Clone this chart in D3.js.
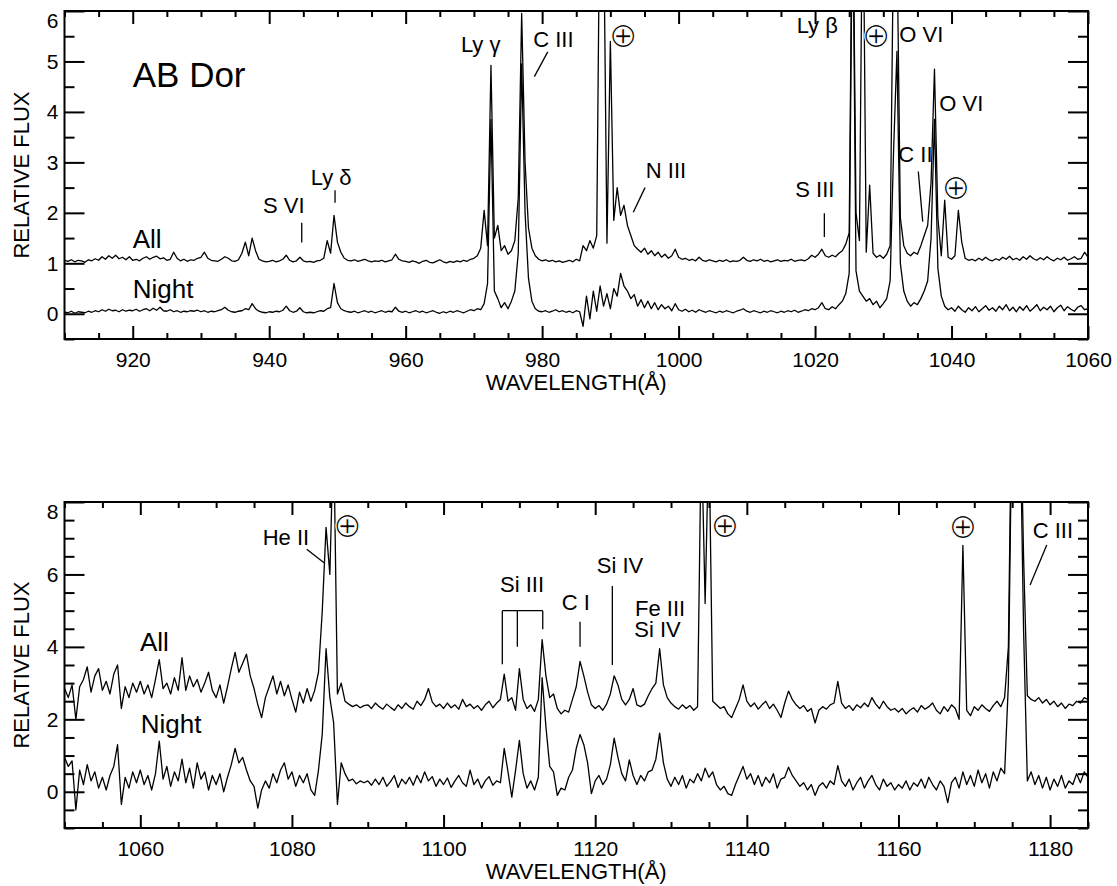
<!DOCTYPE html>
<html><head><meta charset="utf-8">
<script src="https://cdn.jsdelivr.net/npm/d3@7"></script>
<style>body{margin:0;background:#fff} svg{display:block}</style>
</head><body><script>
// ---------------- DATA ----------------
// Panel 1 : 910–1060 Å, sampled every 0.5 Å
const wave1Start = 910, wave1Step = 0.5;
const fluxAll1 = [
1.06,1.04,1.07,1.03,1.06,1.05,1.02,1.07,1.05,1.09,1.06,1.13,1.08,1.15,1.10,1.16,1.09,1.12,1.07,1.13,
1.06,1.08,1.05,1.10,1.13,1.08,1.12,1.14,1.09,1.11,1.06,1.08,1.22,1.10,1.05,1.08,1.04,1.07,1.06,1.10,
1.12,1.22,1.10,1.06,1.05,1.04,1.08,1.13,1.10,1.05,1.04,1.07,1.20,1.42,1.15,1.50,1.25,1.08,1.05,1.03,
1.04,1.06,1.03,1.05,1.08,1.16,1.06,1.03,1.05,1.12,1.05,1.03,1.04,1.02,1.05,1.06,1.10,1.45,1.20,1.95,
1.42,1.22,1.10,1.06,1.05,1.07,1.04,1.06,1.08,1.05,1.03,1.05,1.04,1.06,1.03,1.05,1.07,1.18,1.08,1.05,
1.04,1.02,1.05,1.03,1.00,1.04,1.06,1.02,1.01,1.04,1.07,1.03,1.01,1.04,1.02,1.05,1.03,1.06,1.04,1.08,
1.10,1.15,1.30,2.05,1.35,4.92,1.50,1.75,1.25,1.35,1.18,1.25,1.45,2.30,5.95,3.00,1.70,1.30,1.15,1.08,
1.05,1.07,1.04,1.06,1.03,1.05,1.02,1.04,1.06,1.03,1.08,1.05,1.35,1.25,1.45,1.30,1.55,9.00,8.00,1.40,
5.40,1.85,2.50,1.95,2.15,1.75,1.55,1.35,1.28,1.22,1.30,1.18,1.25,1.15,1.22,1.12,1.18,1.10,1.15,1.28,
1.12,1.08,1.10,1.06,1.08,1.05,1.12,1.06,1.04,1.07,1.05,1.03,1.06,1.04,1.07,1.03,1.05,1.04,1.06,1.12,
1.06,1.04,1.07,1.05,1.08,1.04,1.06,1.03,1.05,1.07,1.04,1.06,1.05,1.08,1.04,1.06,1.07,1.05,1.09,1.16,
1.12,1.18,1.28,1.15,1.12,1.16,1.13,1.20,1.25,1.38,1.60,9.00,2.00,1.45,9.00,1.22,2.55,1.20,1.12,1.16,
1.10,1.18,1.35,7.50,7.50,1.90,1.35,1.20,1.15,1.22,1.18,1.35,1.55,1.75,2.60,4.85,1.90,1.15,2.25,1.12,
1.08,1.15,2.05,1.42,1.10,1.06,1.08,1.05,1.10,1.06,1.12,1.07,1.05,1.09,1.06,1.12,1.08,1.14,1.07,1.10,
1.06,1.13,1.08,1.15,1.09,1.06,1.11,1.07,1.13,1.08,1.05,1.10,1.07,1.12,1.06,1.09,1.13,1.08,1.10,1.22,
1.12];
const fluxNight1 = [
0.03,0.02,0.05,0.01,0.04,0.03,0.02,0.05,0.03,0.06,0.04,0.08,0.05,0.09,0.06,0.07,0.04,0.08,0.05,0.07,
0.06,0.09,0.05,0.08,0.10,0.06,0.11,0.07,0.13,0.06,0.05,0.08,0.04,0.06,0.03,0.05,0.04,0.06,0.05,0.07,
0.04,0.06,0.03,0.05,0.04,0.06,0.08,0.13,0.07,0.04,0.03,0.05,0.06,0.10,0.08,0.20,0.10,0.05,0.03,0.02,
0.04,0.03,0.05,0.04,0.07,0.15,0.06,0.03,0.05,0.12,0.04,0.02,0.03,0.02,0.04,0.06,0.05,0.10,0.12,0.60,
0.22,0.10,0.06,0.04,0.03,0.05,0.02,0.04,0.06,0.03,0.05,0.02,0.04,0.06,0.03,0.05,0.04,0.13,0.05,0.03,
0.05,0.02,0.04,0.06,0.03,0.05,0.02,0.04,0.06,0.03,0.01,0.04,0.02,0.05,0.03,0.06,0.04,0.02,0.05,0.08,
0.06,0.10,0.08,0.20,0.60,3.85,0.45,0.30,0.12,0.22,0.10,0.25,0.45,1.20,4.95,2.00,0.70,0.25,0.10,0.05,
0.04,0.06,0.03,0.05,0.08,0.04,0.06,0.03,0.05,0.02,0.06,0.04,-0.25,0.35,-0.10,0.45,0.05,0.55,0.15,0.40,
0.10,0.50,0.35,0.80,0.55,0.45,0.30,0.38,0.15,0.28,0.12,0.25,0.10,0.22,0.08,0.18,0.10,0.15,0.06,0.20,
0.08,0.05,0.09,0.04,0.07,0.03,0.08,0.05,0.03,0.06,0.04,0.02,0.05,0.03,0.06,0.04,0.02,0.05,0.07,0.10,
0.05,0.03,0.06,0.04,0.02,0.05,0.03,0.06,0.04,0.02,0.05,0.03,0.06,0.04,0.07,0.03,0.05,0.08,0.06,0.10,
0.08,0.12,0.22,0.10,0.08,0.14,0.10,0.18,0.25,0.40,0.80,8.50,0.85,0.45,0.35,0.25,0.30,0.18,0.25,0.12,
0.20,0.30,0.65,3.20,5.20,1.00,0.45,0.25,0.15,0.22,0.18,0.30,0.45,0.65,1.50,3.85,0.90,0.35,0.15,0.08,
0.12,0.05,0.15,0.08,0.03,0.12,0.06,0.14,0.04,0.10,0.16,0.07,0.12,0.05,0.15,0.08,0.18,0.06,0.13,0.04,
0.14,0.07,0.16,0.05,0.11,0.18,0.06,0.13,0.08,0.15,0.04,0.12,0.17,0.06,0.14,0.09,0.05,0.13,0.16,0.08,
0.10];
// Panel 2 : 1050–1185 Å, sampled every 0.5 Å
const wave2Start = 1050, wave2Step = 0.5;
const fluxAll2 = [
2.85,2.60,2.95,2.00,2.90,3.10,3.45,2.75,3.20,3.40,2.80,3.05,2.70,3.25,3.50,2.30,2.90,2.60,3.00,2.75,
3.05,2.70,2.95,2.60,3.10,3.65,2.85,3.00,2.70,3.15,2.80,3.70,2.80,3.20,2.90,3.10,2.75,3.00,3.30,2.80,
2.60,2.95,2.45,2.90,3.40,3.85,3.30,3.55,3.80,3.20,2.85,2.40,2.05,2.60,2.90,3.20,2.70,3.05,2.65,2.95,
2.55,2.20,2.75,2.45,2.85,2.50,2.80,3.30,5.00,7.30,6.00,10.0,2.70,3.00,2.50,2.42,2.35,2.40,2.32,2.38,
2.40,2.30,2.45,2.35,2.28,2.42,2.33,2.25,2.40,2.30,2.45,2.35,2.28,2.50,2.38,2.55,2.85,2.48,2.35,2.42,
2.30,2.45,2.32,2.40,2.28,2.55,2.35,2.42,2.30,2.38,2.25,2.40,2.50,2.32,2.45,2.55,3.25,2.50,2.60,2.25,
3.40,2.55,2.30,2.40,2.22,2.55,4.20,3.20,2.60,2.70,2.30,2.15,2.25,2.20,2.55,2.90,3.60,3.20,2.75,2.40,
2.30,2.38,2.25,2.42,2.70,3.20,2.95,2.55,2.40,2.55,2.85,2.40,2.35,2.42,2.65,2.85,3.00,3.95,2.95,2.60,
2.45,2.35,2.28,2.40,2.30,2.38,2.25,2.35,10.0,5.20,10.0,2.50,2.40,2.30,2.35,2.15,2.05,2.30,2.55,2.95,
2.50,2.35,2.45,2.28,2.40,2.50,2.30,2.42,2.25,2.05,2.45,2.78,2.55,2.40,2.30,2.38,2.22,2.30,1.90,2.25,
2.35,2.28,2.40,2.45,3.05,2.45,2.30,2.38,2.25,2.40,2.32,2.45,2.35,2.60,2.42,2.30,2.50,2.35,2.25,2.30,
2.20,2.30,2.15,2.25,2.32,2.20,2.38,2.28,2.35,2.45,2.25,2.15,2.35,2.22,2.40,2.30,2.00,6.80,2.25,2.10,
2.35,2.25,2.40,2.30,2.22,2.38,2.50,2.35,2.60,4.00,12.0,14.0,12.0,6.50,2.65,2.55,2.50,2.60,2.45,2.55,
2.40,2.50,2.35,2.45,2.30,2.42,2.38,2.50,2.45,2.60,
2.55];
const fluxNight2 = [
0.95,0.70,0.85,-0.50,0.60,0.20,0.75,0.30,0.55,0.10,0.40,0.05,0.45,0.70,1.30,-0.35,0.40,0.10,0.55,0.25,
0.60,0.20,0.45,0.05,0.50,1.40,0.35,0.70,0.15,0.55,0.30,0.90,0.25,0.65,0.10,0.80,0.35,0.55,0.05,0.45,
0.20,0.50,0.00,0.40,0.75,1.20,0.80,0.95,0.60,0.30,0.15,-0.45,0.05,0.30,0.10,0.50,0.25,0.60,0.80,0.35,
0.55,0.15,0.45,0.25,0.50,0.05,-0.10,0.60,1.60,3.95,2.60,1.90,-0.35,0.80,0.50,0.30,0.35,0.22,0.30,0.25,
0.30,0.18,0.35,0.20,0.40,0.15,0.28,0.45,0.12,0.35,0.22,0.40,0.18,0.45,0.25,0.55,0.30,0.42,0.15,0.35,
0.20,0.38,0.12,0.30,0.45,0.25,0.15,0.60,0.20,0.35,0.10,0.30,0.42,0.18,0.30,0.25,1.20,0.55,-0.15,0.60,
1.42,0.50,0.10,0.30,0.05,0.40,3.15,1.80,0.70,0.55,-0.10,0.10,0.05,0.40,0.60,1.20,1.58,1.30,0.80,-0.05,
0.30,0.45,0.20,0.35,0.75,1.48,0.95,0.50,0.30,0.88,0.45,0.20,0.45,0.30,0.55,0.60,0.90,1.62,0.80,0.35,
0.15,0.40,0.20,0.45,0.10,0.35,0.25,0.50,0.30,0.65,0.40,0.55,0.20,0.05,0.15,-0.05,-0.10,0.20,0.45,0.70,
0.35,0.50,0.20,0.45,0.15,0.40,0.25,0.50,0.10,0.35,0.40,0.68,0.45,0.30,0.15,0.25,0.05,0.20,-0.10,0.15,
0.25,0.10,0.30,0.20,0.72,0.30,0.15,0.35,0.05,0.25,0.40,0.10,0.30,0.45,0.20,0.05,0.35,0.15,0.25,0.05,
0.20,0.10,0.30,0.05,0.25,0.15,0.35,0.10,0.40,0.20,0.05,0.30,0.15,-0.30,0.25,0.40,0.10,0.55,0.20,0.45,
0.15,0.60,0.25,0.50,0.10,0.55,0.30,0.65,0.50,3.00,11.0,13.0,11.0,4.50,0.30,0.55,0.20,0.45,0.10,0.40,
0.05,0.35,0.15,0.45,0.10,0.30,0.20,0.50,0.25,0.55,
0.40];

// Axis ticks
const xTicks1 = [920, 940, 960, 980, 1000, 1020, 1040, 1060];
const yTicks1 = [0, 1, 2, 3, 4, 5, 6];
const xTicks2 = [1060, 1080, 1100, 1120, 1140, 1160, 1180];
const yTicks2 = [0, 2, 4, 6, 8];

// Annotations (wavelength, flux)
const labels1 = [
  {t: "AB Dor", w: 920.0, v: 4.49, big: 2},
  {t: "All", w: 920.0, v: 1.30, big: 1},
  {t: "Night", w: 920.0, v: 0.31, big: 1},
  {t: "S VI", w: 939.1, v: 1.99},
  {t: "Ly δ", w: 946.1, v: 2.55},
  {t: "Ly γ", w: 968.1, v: 5.19},
  {t: "C III", w: 978.7, v: 5.29},
  {t: "N III", w: 995.2, v: 2.685},
  {t: "S III", w: 1017.1, v: 2.31},
  {t: "Ly β", w: 1017.3, v: 5.56},
  {t: "O VI", w: 1032.35, v: 5.39},
  {t: "O VI", w: 1038.2, v: 4.02},
  {t: "C II", w: 1032.2, v: 3.00}
];
const leaders1 = [
  [944.77, 1.805, 944.77, 1.41],
  [949.65, 2.45, 949.65, 2.20],
  [980.82, 5.19, 978.86, 4.70],
  [995.08, 2.50, 993.36, 2.01],
  [1021.36, 1.99, 1021.36, 1.52],
  [1035.13, 2.82, 1035.78, 1.825]
];
const earth1 = [[991.86, 5.505], [1028.94, 5.505], [1040.66, 2.49]];

const labels2 = [
  {t: "All", w: 1059.96, v: 3.90, big: 1},
  {t: "Night", w: 1060.05, v: 1.615, big: 1},
  {t: "He II", w: 1076.14, v: 6.81},
  {t: "Si III", w: 1107.45, v: 5.525},
  {t: "C I", w: 1115.58, v: 5.02},
  {t: "Si IV", w: 1120.2, v: 6.03},
  {t: "Fe III", w: 1125.25, v: 4.86},
  {t: "Si IV", w: 1125.16, v: 4.28}
  ,{t: "C III", w: 1177.71, v: 7.0}
];
const leaders2 = [
  [1081.95, 6.695, 1084.23, 6.325],
  [1107.75, 5.0, 1113.08, 5.0],
  [1107.75, 5.0, 1107.75, 3.52],
  [1109.73, 5.0, 1109.73, 4.006],
  [1113.08, 5.0, 1113.08, 4.486],
  [1118.0, 4.696, 1118.0, 4.006],
  [1122.26, 5.68, 1122.26, 3.50],
  [1179.56, 6.81, 1177.36, 5.71]
];
const earth2 = [[1087.3, 7.325], [1137.1, 7.325], [1168.5, 7.31]];

// ---------------- DRAW ----------------
const W = 1117, H = 886;
const FONT = '"Liberation Sans", Arial, Helvetica, sans-serif';
const svg = d3.select("body").append("svg").attr("width", W).attr("height", H)
  .style("background", "#fff");
svg.append("rect").attr("width", W).attr("height", H).attr("fill", "#fff");

const L = 64.5, R = 1088;

function drawPanel(p) {
  const x = d3.scaleLinear().domain(p.xDomain).range([L, R]);
  const y = d3.scaleLinear().domain(p.yDomain).range([p.bottom, p.top]);
  const g = svg.append("g");

  const clipId = "clip" + p.id;
  svg.append("clipPath").attr("id", clipId).append("rect")
    .attr("x", L).attr("y", p.top).attr("width", R - L).attr("height", p.bottom - p.top);

  const line = d3.line()
    .x((d, i) => x(p.start + i * p.step))
    .y(d => y(d));
  const lg = g.append("g").attr("clip-path", `url(#${clipId})`);
  [p.all, p.night].forEach(series => {
    lg.append("path").attr("d", line(series)).attr("fill", "none")
      .attr("stroke", "#000").attr("stroke-width", 1.3).attr("stroke-linejoin", "round");
  });

  const minorX = d3.range(p.xDomain[0], p.xDomain[1] + 0.01, 5).filter(v => !p.xTicks.includes(v));
  const minorY = d3.range(p.yDomain[0], p.yDomain[1] + 0.01, 0.5).filter(v => !p.yTicks.includes(v));
  const fmt = d3.format("d");

  function styleAxis(sel, fs) {
    sel.select(".domain").remove();
    sel.attr("font-family", FONT).attr("font-size", fs);
    sel.selectAll(".tick line").attr("stroke", "#000").attr("stroke-width", 2);
    sel.selectAll(".tick text").attr("fill", "#000");
  }
  // bottom
  g.append("g").attr("transform", `translate(0,${p.bottom})`)
    .call(d3.axisBottom(x).tickValues(p.xTicks).tickSize(-13).tickSizeOuter(0).tickPadding(13).tickFormat(fmt))
    .call(s => styleAxis(s, 21));
  g.append("g").attr("transform", `translate(0,${p.bottom})`)
    .call(d3.axisBottom(x).tickValues(minorX).tickSize(-6).tickSizeOuter(0).tickFormat(""))
    .call(s => styleAxis(s, 21));
  // top
  g.append("g").attr("transform", `translate(0,${p.top})`)
    .call(d3.axisTop(x).tickValues(p.xTicks).tickSize(-13).tickSizeOuter(0).tickFormat(""))
    .call(s => styleAxis(s, 21));
  g.append("g").attr("transform", `translate(0,${p.top})`)
    .call(d3.axisTop(x).tickValues(minorX).tickSize(-6).tickSizeOuter(0).tickFormat(""))
    .call(s => styleAxis(s, 21));
  // left
  const left = g.append("g").attr("transform", `translate(${L},0)`)
    .call(d3.axisLeft(y).tickValues(p.yTicks).tickSize(-20).tickSizeOuter(0).tickPadding(6).tickFormat(fmt))
    .call(s => styleAxis(s, 21));
  left.selectAll(".tick text").filter(d => d === p.yDomain[1]).attr("dy", "0.78em");
  g.append("g").attr("transform", `translate(${L},0)`)
    .call(d3.axisLeft(y).tickValues(minorY).tickSize(-10).tickSizeOuter(0).tickFormat(""))
    .call(s => styleAxis(s, 21));
  // right
  g.append("g").attr("transform", `translate(${R},0)`)
    .call(d3.axisRight(y).tickValues(p.yTicks).tickSize(-20).tickSizeOuter(0).tickFormat(""))
    .call(s => styleAxis(s, 21));
  g.append("g").attr("transform", `translate(${R},0)`)
    .call(d3.axisRight(y).tickValues(minorY).tickSize(-10).tickSizeOuter(0).tickFormat(""))
    .call(s => styleAxis(s, 21));

  // frame
  g.append("rect").attr("x", L).attr("y", p.top).attr("width", R - L).attr("height", p.bottom - p.top)
    .attr("fill", "none").attr("stroke", "#000").attr("stroke-width", 2);

  // axis titles
  g.append("text").attr("x", (L + R) / 2).attr("y", p.bottom + 51)
    .attr("text-anchor", "middle").attr("font-family", FONT).attr("font-size", 22)
    .text("WAVELENGTH(Å)");
  g.append("text").attr("transform", `translate(29,${(p.top + p.bottom) / 2}) rotate(-90)`)
    .attr("text-anchor", "middle").attr("font-family", FONT).attr("font-size", 22)
    .text("RELATIVE FLUX");

  // labels
  const sizes = [22, 26, 35];
  g.selectAll("text.lab").data(p.labels).join("text").attr("class", "lab")
    .attr("x", d => x(d.w)).attr("y", d => y(d.v))
    .attr("font-family", FONT).attr("font-size", d => sizes[d.big || 0])
    .text(d => d.t);
  g.selectAll("line.lead").data(p.leaders).join("line").attr("class", "lead")
    .attr("x1", d => x(d[0])).attr("y1", d => y(d[1]))
    .attr("x2", d => x(d[2])).attr("y2", d => y(d[3]))
    .attr("stroke", "#000").attr("stroke-width", 1.3);
  // Earth (geocoronal) symbol, thinned with a white outline painted over the glyph edges
  g.selectAll("text.earth").data(p.earth).join("text").attr("class", "earth")
    .attr("x", d => x(d[0])).attr("y", d => y(d[1]) + 10.6)
    .attr("text-anchor", "middle").attr("font-family", '"DejaVu Sans"').attr("font-size", 35)
    .attr("fill", "#000").attr("stroke", "#fff").attr("stroke-width", 1.1)
    .text("⊕");
}

drawPanel({id: 1, xDomain: [910, 1060], yDomain: [-0.5, 6], top: 11, bottom: 339,
  start: wave1Start, step: wave1Step, all: fluxAll1, night: fluxNight1,
  xTicks: xTicks1, yTicks: yTicks1, labels: labels1, leaders: leaders1, earth: earth1});
drawPanel({id: 2, xDomain: [1050, 1185], yDomain: [-1, 8], top: 502, bottom: 828,
  start: wave2Start, step: wave2Step, all: fluxAll2, night: fluxNight2,
  xTicks: xTicks2, yTicks: yTicks2, labels: labels2, leaders: leaders2, earth: earth2});
</script></body></html>
